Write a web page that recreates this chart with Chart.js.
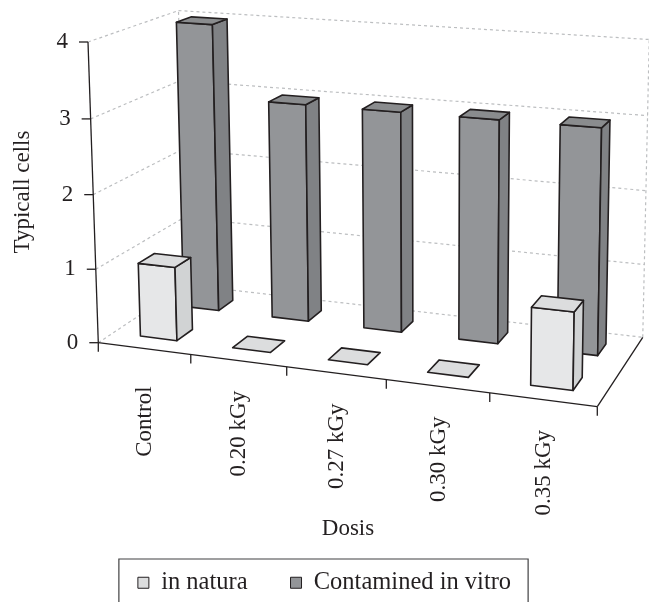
<!DOCTYPE html>
<html>
<head>
<meta charset="utf-8">
<title>Typicall cells</title>
<script src="https://cdn.jsdelivr.net/npm/chart.js@4/dist/chart.umd.min.js"></script>
<style>
	html, body { margin: 0; padding: 0; background: #fff; }
	canvas { display: block; }
</style>
</head>
<body>
<canvas id="cellsChart" width="649" height="602"></canvas>
<script>
const doses = ['Control', '0.20 kGy', '0.27 kGy', '0.30 kGy', '0.35 kGy'];
const inNatura = [1, 0, 0, 0, 1];
const contaminated = [4, 3, 3, 3, 3];
const valueTicks = [0, 1, 2, 3, 4];

const ink = '#231f20';
const serif = '"Liberation Serif", serif';

// pixel frame of the 3D box and its perspective weights
const origin = [98.3, 342.7];
const alongX = [597.3, 406.7];
const alongDepth = [185.4, 284.8];
const alongY = [88, 42];
const weightX = -0.09;
const weightDepth = 0.1;
const weightY = -0.03;

const depthRows = [0.25, 0.75];
const depthHalf = 0.09;

const faces = [
	{ front: '#e6e7e8', side: '#d1d3d4', top: '#dcddde' },
	{ front: '#939598', side: '#808285', top: '#8a8c8e' }
];

const project = (u, w, v) => {
	const d = 1 + weightX * u + weightDepth * w + weightY * v;
	return [0, 1].map((i) => (
		origin[i]
		+ u * ((1 + weightX) * alongX[i] - origin[i])
		+ w * ((1 + weightDepth) * alongDepth[i] - origin[i])
		+ v * ((1 + weightY) * alongY[i] - origin[i])
	) / d);
};

const polygon = (ctx, points, fill) => {
	ctx.beginPath();
	points.forEach((p, i) => (i ? ctx.lineTo(p[0], p[1]) : ctx.moveTo(p[0], p[1])));
	ctx.closePath();
	ctx.fillStyle = fill;
	ctx.fill();
	ctx.stroke();
};

const segment = (ctx, a, b) => {
	ctx.beginPath();
	ctx.moveTo(a[0], a[1]);
	ctx.lineTo(b[0], b[1]);
	ctx.stroke();
};

const drawWalls = (ctx, yScale) => {
	ctx.save();
	ctx.strokeStyle = '#bcbec0';
	ctx.lineWidth = 1.2;
	ctx.setLineDash([3, 3]);
	yScale.ticks.forEach((tick) => {
		const v = tick.value / yScale.max;
		segment(ctx, project(0, 0, v), project(0, 1, v));
		segment(ctx, project(0, 1, v), project(1, 1, v));
	});
	segment(ctx, project(0, 1, 0), project(0, 1, 1));
	segment(ctx, project(1, 1, 0), project(1, 1, 1));
	ctx.restore();
};

const drawAxes = (ctx, xScale, yScale) => {
	ctx.save();
	ctx.strokeStyle = ink;
	ctx.fillStyle = ink;
	ctx.lineWidth = 1.3;
	segment(ctx, project(0, 0, 0), project(0, 0, 1));
	segment(ctx, project(0, 0, 0), project(1, 0, 0));
	segment(ctx, project(1, 0, 0), project(1, 1, 0));

	ctx.font = '23px ' + serif;
	ctx.textAlign = 'right';
	ctx.textBaseline = 'middle';
	yScale.ticks.forEach((tick) => {
		const p = project(0, 0, tick.value / yScale.max);
		segment(ctx, p, [p[0] - 9, p[1]]);
		ctx.fillText(String(tick.value), p[0] - 20, p[1]);
	});

	for (let i = 0; i <= doses.length; i++) {
		const p = project(i / doses.length, 0, 0);
		segment(ctx, p, [p[0], p[1] + 9]);
	}

	ctx.textAlign = 'center';
	doses.forEach((dose, i) => {
		const u = (xScale.getPixelForValue(i) - xScale.left) / xScale.width;
		const p = project(u, 0, 0);
		ctx.save();
		ctx.translate(p[0] + 1, p[1] + 73);
		ctx.rotate(-Math.PI / 2);
		ctx.fillText(dose, 0, 0);
		ctx.restore();
	});

	ctx.fillText('Dosis', 348, 529);
	ctx.save();
	ctx.translate(23, 192);
	ctx.rotate(-Math.PI / 2);
	ctx.fillText('Typicall cells', 0, 0);
	ctx.restore();
	ctx.restore();
};

// one bar as three visible faces, using the element geometry from the bar controller
const drawBox = (ctx, bar, xScale, yScale, row, colors) => {
	const u0 = (bar.x - bar.width / 2 - xScale.left) / xScale.width;
	const u1 = (bar.x + bar.width / 2 - xScale.left) / xScale.width;
	const v = (yScale.bottom - bar.y) / yScale.height;
	const w0 = depthRows[row] - depthHalf;
	const w1 = depthRows[row] + depthHalf;
	if (v > 0) {
		polygon(ctx, [project(u0, w0, 0), project(u1, w0, 0), project(u1, w0, v), project(u0, w0, v)], colors.front);
		polygon(ctx, [project(u1, w0, 0), project(u1, w1, 0), project(u1, w1, v), project(u1, w0, v)], colors.side);
	}
	polygon(ctx, [project(u0, w0, v), project(u1, w0, v), project(u1, w1, v), project(u0, w1, v)], colors.top);
};

const boxPlugin = {
	id: 'box3d',
	beforeDatasetsDraw(chart) {
		const { ctx, scales } = chart;
		drawWalls(ctx, scales.y);
		drawAxes(ctx, scales.x, scales.y);

		ctx.save();
		ctx.strokeStyle = ink;
		ctx.lineWidth = 1.6;
		ctx.lineJoin = 'round';
		[1, 0].forEach((row) => {
			chart.getDatasetMeta(row).data.forEach((bar) => {
				drawBox(ctx, bar, scales.x, scales.y, row, faces[row]);
			});
		});
		ctx.restore();
		return false;
	},
	afterDraw(chart) {
		const { ctx, legend } = chart;
		const boxes = legend.legendHitBoxes;
		const left = boxes[0].left - 19;
		const right = boxes[boxes.length - 1].left + boxes[boxes.length - 1].width + 17;
		ctx.save();
		ctx.strokeStyle = '#414042';
		ctx.lineWidth = 1.2;
		ctx.beginPath();
		ctx.moveTo(left, chart.height);
		ctx.lineTo(left, 559);
		ctx.lineTo(right, 559);
		ctx.lineTo(right, chart.height);
		ctx.stroke();
		ctx.restore();
	}
};

new Chart(document.getElementById('cellsChart'), {
	type: 'bar',
	data: {
		labels: doses,
		datasets: [
			{
				label: 'in natura',
				data: inNatura,
				backgroundColor: faces[0].top,
				borderColor: ink,
				borderWidth: 1
			},
			{
				label: 'Contamined in vitro',
				data: contaminated,
				backgroundColor: faces[1].front,
				borderColor: ink,
				borderWidth: 1
			}
		]
	},
	options: {
		responsive: false,
		animation: false,
		layout: { padding: { bottom: -3 } },
		datasets: { bar: { grouped: false, barPercentage: 0.4, categoryPercentage: 1 } },
		scales: {
			x: { display: false, offset: true },
			y: {
				display: false,
				min: 0,
				max: 4,
				afterBuildTicks: (axis) => {
					axis.ticks = valueTicks.map((value) => ({ value: value }));
				}
			}
		},
		plugins: {
			tooltip: { enabled: false },
			legend: {
				position: 'bottom',
				labels: {
					color: ink,
					boxWidth: 11,
					boxHeight: 11,
					padding: 43,
					font: { family: serif, size: 24.5 }
				}
			}
		}
	},
	plugins: [boxPlugin]
});
</script>
</body>
</html>
